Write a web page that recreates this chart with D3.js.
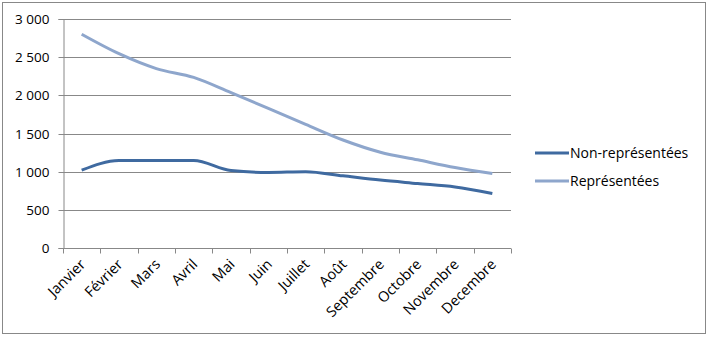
<!DOCTYPE html>
<html><head><meta charset="utf-8">
<script src="https://cdn.jsdelivr.net/npm/d3@7"></script>
<style>body{margin:0;background:#fff}svg{display:block}text{font-family:"Open Sans","Noto Sans",sans-serif;fill:#000}</style>
</head><body><svg id="c" width="709" height="337"></svg>
<script>
const months = ["Janvier","Février","Mars","Avril","Mai","Juin","Juillet","Août","Septembre","Octobre","Novembre","Decembre"];
const nonRepresentees = [1020,1145,1145,1145,1015,990,1000,945,890,845,800,715];
const representees = [2800,2545,2350,2235,2035,1830,1620,1415,1255,1155,1055,975];
const yTicks = [0,500,1000,1500,2000,2500,3000];
const seriesNames = ["Non-représentées","Représentées"];
const colors = ["#3F6AA0","#8EA6CC"];

const svg = d3.select("#c");
svg.append("rect").attr("x",2.5).attr("y",2.5).attr("width",703).attr("height",331)
  .attr("fill","#fff").attr("stroke","#888").attr("stroke-width",1);

const x = d3.scaleBand().domain(months).range([63,511]);
const y = d3.scaleLinear().domain([0,3000]).range([248,19]);
const fmt = v => d3.format(",")(v).replace(/,/g," ");

const g = svg.append("g");
g.selectAll("line.grid").data(yTicks.filter(d=>d>0)).join("line")
  .attr("x1",63).attr("x2",511).attr("y1",d=>Math.round(y(d))+0.5).attr("y2",d=>Math.round(y(d))+0.5)
  .attr("stroke","#888").attr("stroke-width",1);

const yAxis = g.append("g").attr("transform","translate(63.5,0)")
  .call(d3.axisLeft(y).tickValues(yTicks).tickFormat(fmt).tickSize(5).tickPadding(9));
yAxis.select(".domain").attr("stroke","#888");
yAxis.selectAll(".tick line").attr("stroke","#888");
yAxis.selectAll(".tick").attr("transform",d=>`translate(0,${Math.round(y(d))+0.5})`);
yAxis.selectAll("text").attr("font-size",13.5).attr("fill","#000").attr("font-family","'Open Sans',sans-serif");

const xAxis = g.append("g").attr("transform","translate(0,248.5)");
xAxis.append("line").attr("x1",63).attr("x2",511).attr("stroke","#888");
const tickPos = months.map(m=>x(m)).concat([511]);
xAxis.selectAll("line.t").data(tickPos).join("line").attr("class","t")
  .attr("x1",d=>Math.round(d)+0.5).attr("x2",d=>Math.round(d)+0.5).attr("y1",0).attr("y2",5).attr("stroke","#888");
xAxis.selectAll("text").data(months).join("text")
  .attr("transform",d=>`translate(${x(d)+x.bandwidth()/2-3},9) rotate(-45)`)
  .attr("text-anchor","end").attr("dy","0.75em").attr("font-size",14.5).text(d=>d);

const line = d3.line().x((d,i)=>x(months[i])+x.bandwidth()/2).y(d=>y(d)).curve(d3.curveMonotoneX);
[nonRepresentees,representees].forEach((s,k)=>{
  g.append("path").datum(s).attr("d",line).attr("fill","none").attr("stroke",colors[k]).attr("stroke-width",3);
});

const leg = svg.append("g");
seriesNames.forEach((n,k)=>{
  const yy = 153 + k*28;
  leg.append("line").attr("x1",535).attr("x2",569).attr("y1",yy).attr("y2",yy).attr("stroke",colors[k]).attr("stroke-width",3);
  leg.append("text").attr("x",570).attr("y",yy).attr("dy","0.35em").attr("font-size",14).text(n);
});
</script></body></html>
